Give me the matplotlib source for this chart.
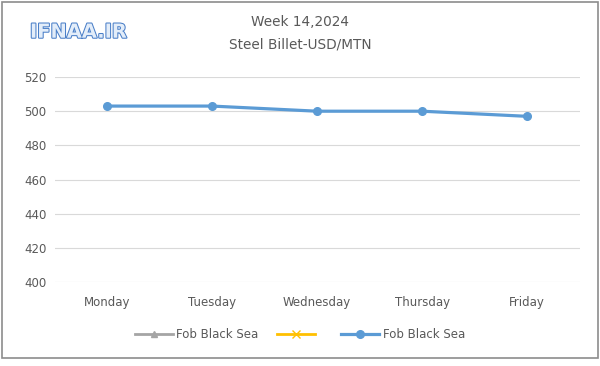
import numpy as np
import matplotlib
matplotlib.use('Agg')
import matplotlib.pyplot as plt
import matplotlib.patheffects as pe
from matplotlib.patches import Rectangle

days = ['Monday', 'Tuesday', 'Wednesday', 'Thursday', 'Friday']
prices = [503, 503, 500, 500, 497]
empty = [np.nan] * 5
y_ticks = [400, 420, 440, 460, 480, 500, 520]

grey_txt = '#595959'

fig = plt.figure(figsize=(6, 3.66), dpi=100)
ax = fig.add_axes([0.091, 0.2295, 0.875, 0.560])

x = np.arange(len(days))
l1, = ax.plot(x, empty, color='#a5a5a5', marker='^', markersize=5, lw=2, label='Fob Black Sea')
l2, = ax.plot(x, empty, color='#ffc000', marker='x', markersize=6, lw=2, label=' ')
l3, = ax.plot(x, prices, color='#5b9bd5', marker='o', markersize=5.5, lw=2.3, label='Fob Black Sea')

ax.set_xlim(-0.5, 4.5)
ax.set_ylim(400, 520)
ax.set_yticks(y_ticks)
ax.set_xticks(x)
ax.set_xticklabels(days)
ax.grid(axis='y', color='#d9d9d9', lw=0.8)
ax.set_axisbelow(True)
for s in ax.spines.values():
    s.set_visible(False)
ax.tick_params(length=0, labelsize=8.5, labelcolor=grey_txt, pad=6)
ax.tick_params(axis='x', pad=10)

fig.text(0.5, 0.94, 'Week 14,2024', ha='center', va='center', fontsize=9.8, color=grey_txt)
fig.text(0.5, 0.878, 'Steel Billet-USD/MTN', ha='center', va='center', fontsize=9.8, color=grey_txt)

t = fig.text(0.05, 0.912, 'IFNAA.IR', ha='left', va='center', fontsize=14, fontweight='bold',
             color='#e3edf9')
t.set_path_effects([pe.Stroke(linewidth=1.5, foreground='#4a7fc8'), pe.Normal()])

fig.legend(handles=[l1, l2, l3], loc='center', bbox_to_anchor=(0.5, 0.087), ncol=3,
           frameon=False, fontsize=8.5, handlelength=3.2, columnspacing=1.6,
           handletextpad=0.3, labelcolor=grey_txt)

fig.patches.append(Rectangle((0.004, 0.022), 0.992, 0.972, transform=fig.transFigure,
                             fill=False, edgecolor='#8c8c8c', lw=1.2))

fig.savefig('out.png', dpi=100)
